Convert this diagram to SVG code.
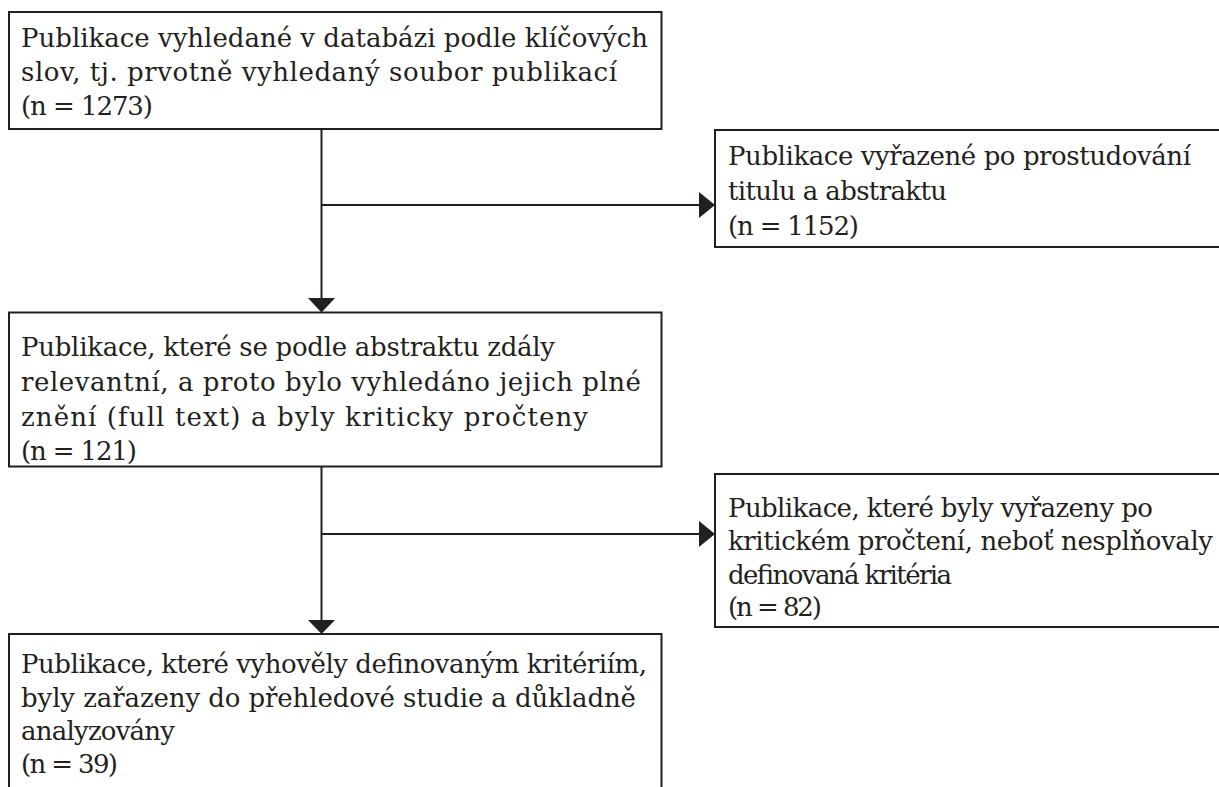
<svg xmlns="http://www.w3.org/2000/svg" width="1219" height="787" viewBox="0 0 1219 787">
  <defs>
    <style>
      .box { fill: #ffffff; stroke: #231f20; stroke-width: 2; }
      .txt { font-family: "DejaVu Serif", "Liberation Serif", serif; font-size: 26px; fill: #231f20; }
      .conn { fill: none; stroke: #231f20; stroke-width: 2; }
      .head { fill: #231f20; stroke: none; }
    </style>
  </defs>
  <rect x="0" y="0" width="1219" height="787" fill="#ffffff"/>

  <g id="connectors">
    <path class="conn" d="M321.5 129 V298"/>
    <path class="conn" d="M321.5 205 H700"/>
    <polygon class="head" points="308,298 335,298 321.5,312.5"/>
    <polygon class="head" points="699,192 715,205 699,218"/>

    <path class="conn" d="M321.5 466.5 V620"/>
    <path class="conn" d="M321.5 534 H700"/>
    <polygon class="head" points="308,620 335,620 321.5,634"/>
    <polygon class="head" points="699,521 715,534 699,547"/>
  </g>

  <g id="node1">
    <rect class="box" x="9" y="12" width="652.5" height="117"/>
    <text class="txt" x="21" y="47" textLength="627" lengthAdjust="spacing">Publikace vyhledané v databázi podle klíčových</text>
    <text class="txt" x="21" y="81" textLength="596" lengthAdjust="spacing">slov, tj. prvotně vyhledaný soubor publikací</text>
    <text class="txt" x="21" y="115" textLength="132" lengthAdjust="spacing">(n = 1273)</text>
  </g>

  <g id="node2">
    <rect class="box" x="715" y="130" width="520" height="117"/>
    <text class="txt" x="728" y="165" textLength="463" lengthAdjust="spacing">Publikace vyřazené po prostudování</text>
    <text class="txt" x="728" y="199.5" textLength="219" lengthAdjust="spacing">titulu a abstraktu</text>
    <text class="txt" x="728" y="234.5" textLength="131" lengthAdjust="spacing">(n = 1152)</text>
  </g>

  <g id="node3">
    <rect class="box" x="9" y="312.5" width="652.5" height="154"/>
    <text class="txt" x="21" y="356" textLength="534" lengthAdjust="spacing">Publikace, které se podle abstraktu zdály</text>
    <text class="txt" x="21" y="391" textLength="620" lengthAdjust="spacing">relevantní, a proto bylo vyhledáno jejich plné</text>
    <text class="txt" x="21" y="425.5" textLength="567" lengthAdjust="spacing">znění (full text) a byly kriticky pročteny</text>
    <text class="txt" x="21" y="460" textLength="116" lengthAdjust="spacing">(n = 121)</text>
  </g>

  <g id="node4">
    <rect class="box" x="715" y="474" width="520" height="153"/>
    <text class="txt" x="728" y="516.5" textLength="425" lengthAdjust="spacing">Publikace, které byly vyřazeny po</text>
    <text class="txt" x="728" y="550" textLength="485" lengthAdjust="spacing">kritickém pročtení, neboť nesplňovaly</text>
    <text class="txt" x="728" y="583.5" textLength="224" lengthAdjust="spacing">definovaná kritéria</text>
    <text class="txt" x="728" y="616" textLength="94" lengthAdjust="spacing">(n = 82)</text>
  </g>

  <g id="node5">
    <rect class="box" x="9" y="634" width="652.5" height="180"/>
    <text class="txt" x="21" y="673" textLength="626" lengthAdjust="spacing">Publikace, které vyhověly definovaným kritériím,</text>
    <text class="txt" x="21" y="707" textLength="615" lengthAdjust="spacing">byly zařazeny do přehledové studie a důkladně</text>
    <text class="txt" x="21" y="740" textLength="154" lengthAdjust="spacing">analyzovány</text>
    <text class="txt" x="21" y="773" textLength="97" lengthAdjust="spacing">(n = 39)</text>
  </g>
</svg>
